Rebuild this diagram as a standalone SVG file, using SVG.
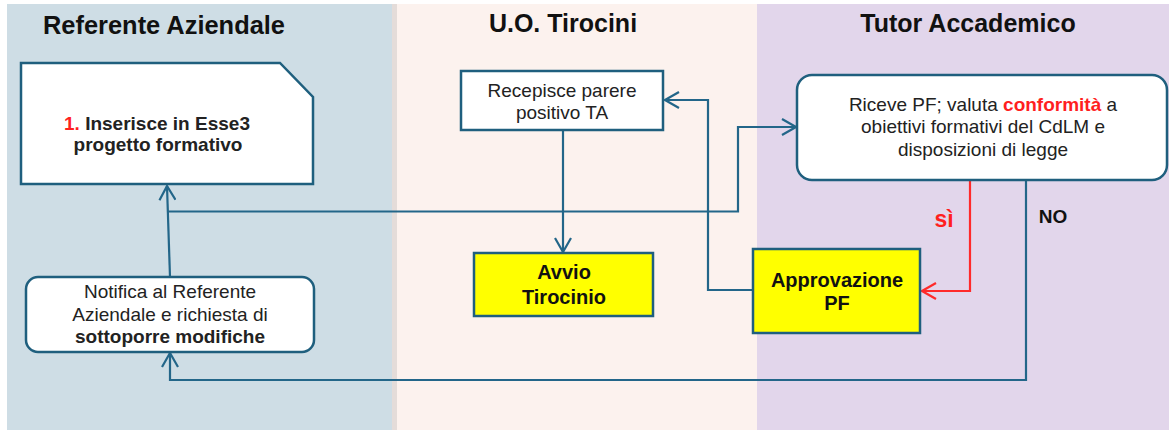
<svg xmlns="http://www.w3.org/2000/svg" width="1169" height="430" viewBox="0 0 1169 430">
<style>
text{font-family:"Liberation Sans",Arial,sans-serif;fill:#222;text-anchor:middle}
.title{font-size:25px;font-weight:bold;fill:#111}
.body{font-size:19px}
.b{font-weight:bold}
.red{fill:#ff1f1f}
.node{fill:#fff;stroke:#1f5f7e;stroke-width:2.5}
.yel{fill:#ffff00;stroke:#1f5f7e;stroke-width:2.5}
.conn{fill:none;stroke:#236689;stroke-width:2.2}
.connr{fill:none;stroke:#ff2a2a;stroke-width:2.2}
</style>
<defs>
<marker id="ah" viewBox="0 0 16 18" refX="15" refY="9" markerWidth="16" markerHeight="18" markerUnits="userSpaceOnUse" orient="auto">
<path d="M1,1 L15,9 L1,17" fill="none" stroke="#236689" stroke-width="2.2"/>
</marker>
<marker id="ahr" viewBox="0 0 16 18" refX="15" refY="9" markerWidth="16" markerHeight="18" markerUnits="userSpaceOnUse" orient="auto">
<path d="M1,1 L15,9 L1,17" fill="none" stroke="#ff2a2a" stroke-width="2.2"/>
</marker>
</defs>
<rect x="0" y="0" width="1169" height="430" fill="#fff"/>
<g id="lanes">
<rect x="7" y="4" width="386" height="426" fill="#cedde5"/>
<rect x="392" y="4" width="5" height="426" fill="#e4dcd9"/>
<rect x="397" y="4" width="360" height="426" fill="#fcf2ee"/>
<rect x="757" y="4" width="412" height="426" fill="#e2d6eb"/>
<text class="title" x="164" y="34" textLength="242" lengthAdjust="spacingAndGlyphs">Referente Aziendale</text>
<text class="title" x="563" y="32">U.O. Tirocini</text>
<text class="title" x="968" y="32">Tutor Accademico</text>
</g>
<g id="connectors">
<path class="conn" d="M170,277 L167,186" marker-end="url(#ah)"/>
<path class="conn" d="M167,211.5 H738 V127 H796" marker-end="url(#ah)"/>
<path class="conn" d="M753,290 H708 V100 H665" marker-end="url(#ah)"/>
<path class="conn" d="M563,130 V252" marker-end="url(#ah)"/>
<path class="connr" d="M970,181 V291 H922" marker-end="url(#ahr)"/>
<path class="conn" d="M1026,181 V380 H170 V353" marker-end="url(#ah)"/>
<text class="b red" x="944" y="227" style="font-size:23px">sì</text>
<text class="b" x="1053" y="223" style="font-size:19px;fill:#111">NO</text>
</g>
<g id="inserisce">
<polygon class="node" points="21,63 280,63 313,97 313,184 21,184"/>
<text class="body b" x="157" y="130"><tspan class="red">1.</tspan> Inserisce in Esse3</text>
<text class="body b" x="158" y="151">progetto formativo</text>
</g>
<g id="recepisce">
<rect class="node" x="461" y="71" width="202" height="59"/>
<text class="body" x="562" y="97">Recepisce parere</text>
<text class="body" x="562" y="119">positivo TA</text>
</g>
<g id="riceve">
<rect class="node" x="797" y="75" width="370" height="105" rx="15"/>
<text class="body" x="983" y="111">Riceve PF; valuta <tspan class="b red">conformità</tspan> a</text>
<text class="body" x="983" y="133">obiettivi formativi del CdLM e</text>
<text class="body" x="983" y="156">disposizioni di legge</text>
</g>
<g id="avvio">
<rect class="yel" x="474" y="253" width="179" height="63"/>
<text class="body b" x="564" y="279" style="font-size:20px;fill:#111">Avvio</text>
<text class="body b" x="564" y="304" style="font-size:20px;fill:#111">Tirocinio</text>
</g>
<g id="approvazione">
<rect class="yel" x="753" y="249" width="167" height="84"/>
<text class="body b" x="837" y="287" style="font-size:20px;fill:#111">Approvazione</text>
<text class="body b" x="837" y="310" style="font-size:20px;fill:#111">PF</text>
</g>
<g id="notifica">
<rect class="node" x="26" y="277" width="288" height="75" rx="12"/>
<text class="body" x="170" y="298">Notifica al Referente</text>
<text class="body" x="170" y="321">Aziendale e richiesta di</text>
<text class="body b" x="170" y="343">sottoporre modifiche</text>
</g>
</svg>
